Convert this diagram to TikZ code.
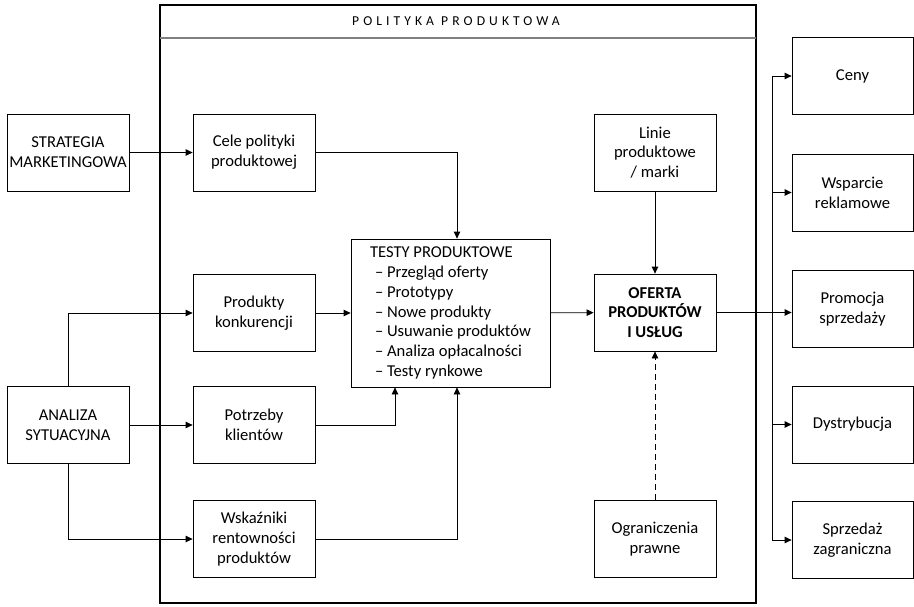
\documentclass[tikz,border=0pt]{standalone}
\usepackage{fontspec}
\setmainfont{Carlito}
\usetikzlibrary{arrows.meta}
\begin{document}
\begin{tikzpicture}[x=1pt,y=-1pt,
  box/.style={draw,line width=0.8pt,minimum width=122pt,minimum height=77pt,
    align=center,inner sep=2pt,font=\fontsize{16.6}{19.7}\selectfont},
  arr/.style={line width=0.8pt,-{Triangle[length=7pt,width=6.5pt]}}]
\useasboundingbox (0,0) rectangle (914,606);
% ramka polityki produktowej
\draw[line width=1.6pt] (160,5) rectangle (756,603);
\draw[gray,line width=2pt] (160,38) -- (756,38);
\node[at={(456,21.5)}] (tytul) {\fontsize{13.6}{16}\selectfont\addfontfeature{LetterSpace=30}POLITYKA PRODUKTOWA};
% wejscia
\node[box] (strategia) at (68,152.5) {STRATEGIA\\MARKETINGOWA};
\node[box] (analiza) at (68,425) {ANALIZA\\SYTUACYJNA};
\node[box] (cele) at (254,152.5) {Cele polityki\\produktowej};
\node[box] (konkur) at (254,313) {Produkty\\konkurencji};
\node[box] (potrzeby) at (254,425) {Potrzeby\\klientów};
\node[box] (wskazniki) at (254,539) {Wskaźniki\\rentowności\\produktów};
\node[box,minimum width=199pt,minimum height=148pt,align=left] (testy) at (450.5,313)
  {TESTY PRODUKTOWE\\
   \hspace{5pt}– Przegląd oferty\\
   \hspace{5pt}– Prototypy\\
   \hspace{5pt}– Nowe produkty\\
   \hspace{5pt}– Usuwanie produktów\\
   \hspace{5pt}– Analiza opłacalności\\
   \hspace{5pt}– Testy rynkowe};
\node[box] (linie) at (655,152.5) {Linie\\produktowe\\/ marki};
\node[box] (oferta) at (655,312.5) {\bfseries OFERTA\\\bfseries PRODUKTÓW\\\bfseries I USŁUG};
\node[box] (ogranicz) at (655,539) {Ograniczenia\\prawne};
% wyjscia
\node[box,minimum width=121pt] (ceny) at (852.5,76) {Ceny};
\node[box,minimum width=121pt] (wsparcie) at (852.5,192.5) {Wsparcie\\reklamowe};
\node[box,minimum width=121pt] (promocja) at (852.5,309) {Promocja\\sprzedaży};
\node[box,minimum width=121pt] (dystryb) at (852.5,424.5) {Dystrybucja};
\node[box,minimum width=121pt] (sprzedaz) at (852.5,540) {Sprzedaż\\zagraniczna};
\coordinate (pion) at (772,312.5);
% polaczenia
\draw[arr] (strategia) -- (cele);
\draw[arr] (analiza.north) |- (konkur.west);
\draw[arr] (analiza) -- (potrzeby);
\draw[arr] (analiza.south) |- (wskazniki.west);
\draw[arr] (cele.east) -| ([xshift=6.5pt]testy.north);
\draw[arr] (konkur) -- (testy);
\draw[arr] (potrzeby.east) -| ([xshift=-55.5pt]testy.south);
\draw[arr] (wskazniki.east) -| ([xshift=6.5pt]testy.south);
\draw[arr] (testy) -- (oferta);
\draw[arr] (linie) -- (oferta);
\draw[arr,dash pattern=on 6pt off 4pt] (ogranicz) -- (oferta);
\draw[arr] (oferta.east) -- (oferta.east -| promocja.west);
\draw[line width=0.8pt] (ceny.west -| pion) -- (sprzedaz.west -| pion);
\foreach \n in {ceny,wsparcie,dystryb,sprzedaz}
  \draw[arr] (\n.west -| pion) -- (\n.west);
\end{tikzpicture}
\end{document}
